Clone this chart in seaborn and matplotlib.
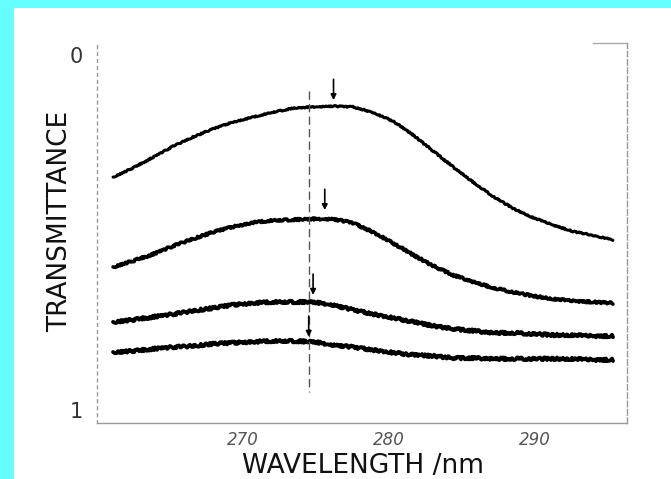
import numpy as np
import pandas as pd
import seaborn as sns
import matplotlib.pyplot as plt
from matplotlib.patches import Rectangle
from matplotlib.ticker import MultipleLocator

# wavelength grid (nm)
wavelength = [261.10, 262.47, 263.84, 265.21, 266.58, 267.95, 269.32, 270.68, 272.05,
              273.42, 274.79, 276.16, 277.53, 278.90, 280.27, 281.64, 283.01, 284.38,
              285.75, 287.12, 288.49, 289.86, 291.23, 292.60, 293.97, 295.34]

# transmittance of the four traces (0 at top, 1 at bottom)
trace_a = [0.344, 0.318, 0.288, 0.257, 0.231, 0.208, 0.189, 0.175, 0.161,
           0.150, 0.146, 0.144, 0.146, 0.162, 0.186, 0.225, 0.270, 0.315,
           0.358, 0.398, 0.432, 0.458, 0.479, 0.497, 0.508, 0.521]
trace_b = [0.597, 0.580, 0.561, 0.538, 0.518, 0.499, 0.484, 0.472, 0.466,
           0.464, 0.462, 0.462, 0.473, 0.499, 0.530, 0.563, 0.594, 0.620,
           0.639, 0.656, 0.668, 0.679, 0.687, 0.693, 0.696, 0.699]
trace_c = [0.752, 0.746, 0.738, 0.730, 0.721, 0.713, 0.704, 0.699, 0.696,
           0.696, 0.696, 0.704, 0.718, 0.730, 0.741, 0.752, 0.763, 0.772,
           0.777, 0.783, 0.783, 0.786, 0.789, 0.789, 0.792, 0.792]
trace_d = [0.837, 0.834, 0.828, 0.823, 0.820, 0.814, 0.811, 0.808, 0.806,
           0.806, 0.808, 0.817, 0.823, 0.831, 0.839, 0.845, 0.848, 0.854,
           0.854, 0.856, 0.856, 0.856, 0.856, 0.856, 0.859, 0.859]

# arrows marking the peak of each trace
peak_x = [276.2, 275.6, 274.8, 274.5]
peak_y = [0.127, 0.437, 0.676, 0.794]

# dashed reference line
ref_x = 274.5
ref_span = (0.10, 0.95)

x_ticks = [270, 280, 290]
y_ticks = [0, 1]

sns.set_style("white")
plt.rcParams['font.family'] = ['DejaVu Sans']

traces = {"a": trace_a, "b": trace_b, "c": trace_c, "d": trace_d}
df = pd.concat([pd.DataFrame({"wavelength": wavelength, "T": v, "trace": k})
                for k, v in traces.items()], ignore_index=True)

fig = plt.figure(figsize=(6.71, 4.79), dpi=100)
fig.set_facecolor("#66ffff")
fig.patches.append(Rectangle((14 / 671, 0), 1, 1 - 8 / 479, transform=fig.transFigure,
                             facecolor="white", edgecolor="none", zorder=-10))
ax = fig.add_axes([97 / 671, 56 / 479, 530 / 671, 380 / 479])
ax.set_facecolor("white")

sns.lineplot(data=df, x="wavelength", y="T", hue="trace",
             palette=["black"] * 4, legend=False, ax=ax, linewidth=2.4)
widths = [2.2, 2.6, 2.8, 2.8]
fuzz = [0.6, 1.0, 1.3, 1.3]
for ln, w, f in zip(ax.lines, widths, fuzz):
    ln.set_linewidth(w)
    ln.set_sketch_params(scale=f, length=2.5, randomness=4)

ax.vlines(ref_x, ref_span[0], ref_span[1], colors="#555555", linestyles=(0, (6, 3)),
          linewidth=1.0)

for px, py in zip(peak_x, peak_y):
    ax.annotate("", xy=(px, py), xytext=(0, 15), textcoords="offset points",
                arrowprops=dict(arrowstyle="-|>", color="black", lw=1.2,
                                mutation_scale=8, shrinkA=0, shrinkB=0))

ax.set_xlim(260.0, 296.3)
ax.set_ylim(1.037, -0.034)
ax.set_xticks(x_ticks)
ax.set_yticks(y_ticks)
ax.xaxis.set_minor_locator(MultipleLocator(1))
ax.tick_params(axis="x", which="both", direction="in", color="#666666", length=3,
               labelsize=12, labelcolor="#555555", pad=6)
ax.tick_params(axis="y", which="both", direction="in", color="#777777", length=3,
               labelsize=15, labelcolor="#333333", pad=10)
for lab in ax.get_xticklabels():
    lab.set_fontstyle("italic")

for side in ["left", "bottom", "right"]:
    ax.spines[side].set_color("#999999")
    ax.spines[side].set_linewidth(1.0)
ax.spines["left"].set_linestyle((0, (2, 3)))
ax.spines["right"].set_linestyle((0, (4, 2)))
ax.spines["top"].set_bounds(294.0, 296.3)
ax.spines["top"].set_color("#aaaaaa")
ax.spines["top"].set_linewidth(1.0)

ax.set_xlabel("WAVELENGTH /nm", fontsize=19, color="#111111")
ax.set_ylabel("TRANSMITTANCE", fontsize=19, color="#111111")
ax.xaxis.set_label_coords(0.502, -0.079)
ax.yaxis.set_label_coords(-0.045, 0.53)

plt.savefig("out.png", dpi=100, facecolor=fig.get_facecolor())
plt.close()
